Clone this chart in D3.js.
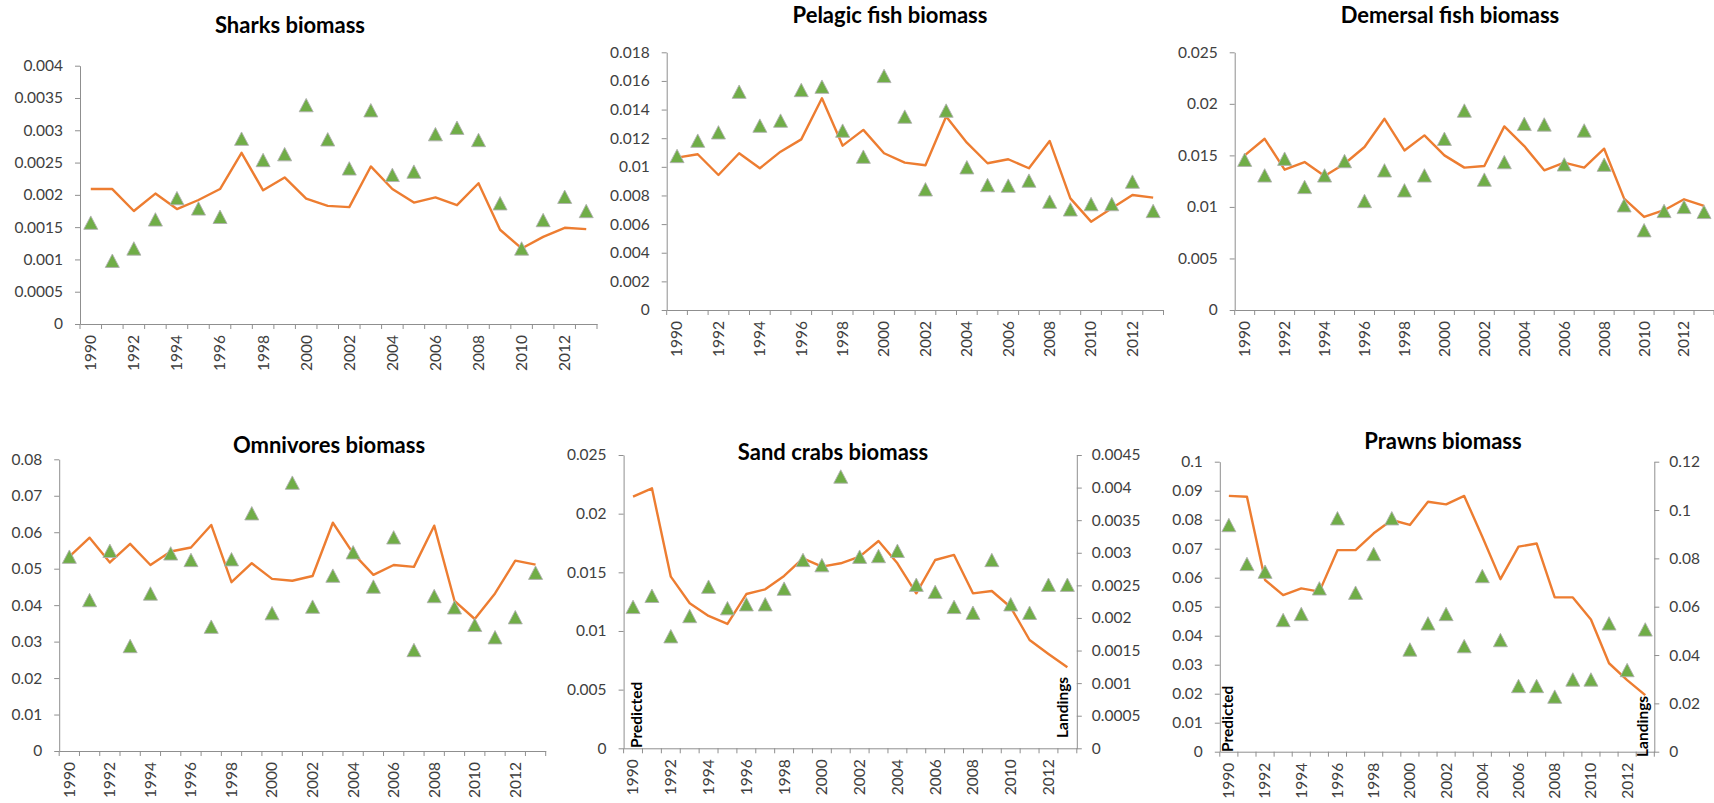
<!DOCTYPE html>
<html>
<head>
<meta charset="utf-8">
<script src="https://cdn.jsdelivr.net/npm/d3@7/dist/d3.min.js"></script>
<style>
  body { margin: 0; background: #fff; }
  svg { display: block; font-family: Lato, "Open Sans", sans-serif; }
  .axis text { font-size: 15.5px; fill: #404040; font-family: Lato, sans-serif; }
  .axis line, .axis path { stroke: #8f8f8f; }
</style>
</head>
<body>
<svg id="chart" width="1714" height="803"></svg>
<script>
// categories
const years = [1990, 1991, 1992, 1993, 1994, 1995, 1996, 1997, 1998, 1999, 2000, 2001,
               2002, 2003, 2004, 2005, 2006, 2007, 2008, 2009, 2010, 2011, 2012, 2013];
const yearLabels = [1990, 1992, 1994, 1996, 1998, 2000, 2002, 2004, 2006, 2008, 2010, 2012];

// predicted (line) and landings (triangles)
const sharksPred = [0.00209, 0.00209, 0.00175, 0.00202, 0.00178, 0.00192, 0.00209, 0.00265, 0.00207, 0.00227, 0.00194, 0.00183,
                    0.00181, 0.00244, 0.00209, 0.00188, 0.00196, 0.00184, 0.00218, 0.00146, 0.00117, 0.00135, 0.00149, 0.00147];
const sharksLand = [0.00157, 0.00098, 0.00117, 0.00162, 0.00195, 0.00179, 0.00166, 0.00287, 0.00254, 0.00263, 0.00339, 0.00286,
                    0.00241, 0.00331, 0.00231, 0.00236, 0.00294, 0.00304, 0.00285, 0.00187, 0.00117, 0.00161, 0.00197, 0.00175];

const pelagicPred = [0.01064, 0.01088, 0.00943, 0.01095, 0.0099, 0.01106, 0.01192, 0.01479, 0.01148, 0.01258, 0.01095, 0.01029,
                     0.01011, 0.01351, 0.01169, 0.01025, 0.01053, 0.0099, 0.01181, 0.0078, 0.00617, 0.0071, 0.00803, 0.00785];
const pelagicLand = [0.01076, 0.01183, 0.01241, 0.01525, 0.01288, 0.01323, 0.01537, 0.0156, 0.01253, 0.01071, 0.01635, 0.01351,
                     0.00843, 0.01393, 0.00997, 0.00873, 0.00869, 0.00904, 0.00757, 0.00703, 0.0074, 0.0074, 0.00897, 0.00692];

const demersalPred = [0.015, 0.01661, 0.01361, 0.01435, 0.013, 0.01419, 0.01581, 0.01855, 0.01548, 0.01694, 0.015, 0.01381,
                      0.01397, 0.01781, 0.0159, 0.01355, 0.01429, 0.01381, 0.01565, 0.01081, 0.00903, 0.00968, 0.01074, 0.0101];
const demersalLand = [0.01458, 0.01306, 0.01468, 0.01194, 0.01306, 0.01445, 0.01058, 0.01355, 0.01161, 0.01306, 0.01661, 0.01935,
                      0.01265, 0.01435, 0.01806, 0.018, 0.01413, 0.01742, 0.0141, 0.01016, 0.00774, 0.00961, 0.01, 0.00952];

const omnivoresPred = [0.0533, 0.0585, 0.0517, 0.0568, 0.051, 0.0547, 0.0558, 0.062, 0.0463, 0.0515, 0.0472, 0.0467,
                       0.048, 0.0626, 0.0542, 0.0483, 0.051, 0.0505, 0.0618, 0.0412, 0.0362, 0.0432, 0.0522, 0.0511];
const omnivoresLand = [0.0533, 0.0414, 0.0549, 0.0288, 0.0432, 0.0542, 0.0524, 0.0341, 0.0526, 0.0652, 0.0378, 0.0736,
                       0.0396, 0.0481, 0.0545, 0.0451, 0.0586, 0.0277, 0.0425, 0.0394, 0.0346, 0.0312, 0.0367, 0.0489];

const sandPred = [0.02145, 0.02216, 0.01463, 0.01236, 0.01128, 0.0106, 0.01315, 0.01355, 0.01469, 0.01619, 0.01548, 0.01577,
                  0.01634, 0.01767, 0.01577, 0.01321, 0.01605, 0.01648, 0.01321, 0.01341, 0.01202, 0.00923, 0.00804, 0.0069];
const sandLand = [0.00217, 0.00234, 0.00172, 0.00203, 0.00248, 0.00215, 0.00221, 0.00221, 0.00245, 0.00289, 0.00281, 0.00417,
                  0.00294, 0.00295, 0.00303, 0.00251, 0.0024, 0.00217, 0.00208, 0.00289, 0.00221, 0.00208, 0.00251, 0.00251];

const prawnsPred = [0.0882, 0.0879, 0.0592, 0.054, 0.0563, 0.0552, 0.0695, 0.0695, 0.0753, 0.0799, 0.0782, 0.0862,
                    0.0853, 0.0882, 0.0741, 0.0595, 0.0707, 0.0718, 0.0532, 0.0532, 0.0456, 0.0305, 0.0247, 0.0195];
const prawnsLand = [0.0938, 0.0777, 0.0745, 0.0545, 0.057, 0.0676, 0.0966, 0.0658, 0.0818, 0.0966, 0.0423, 0.0531,
                    0.057, 0.0437, 0.0727, 0.0462, 0.0272, 0.0272, 0.0228, 0.0299, 0.0299, 0.0531, 0.0338, 0.0506];

// axis ticks
const sharksTicks = [0, 0.0005, 0.001, 0.0015, 0.002, 0.0025, 0.003, 0.0035, 0.004];
const pelagicTicks = [0, 0.002, 0.004, 0.006, 0.008, 0.01, 0.012, 0.014, 0.016, 0.018];
const demersalTicks = [0, 0.005, 0.01, 0.015, 0.02, 0.025];
const omnivoresTicks = [0, 0.01, 0.02, 0.03, 0.04, 0.05, 0.06, 0.07, 0.08];
const sandTicks = [0, 0.005, 0.01, 0.015, 0.02, 0.025];
const sandRightTicks = [0, 0.0005, 0.001, 0.0015, 0.002, 0.0025, 0.003, 0.0035, 0.004, 0.0045];
const prawnsTicks = [0, 0.01, 0.02, 0.03, 0.04, 0.05, 0.06, 0.07, 0.08, 0.09, 0.1];
const prawnsRightTicks = [0, 0.02, 0.04, 0.06, 0.08, 0.1, 0.12];

const panels = [
  { title: "Sharks biomass", tx: 290, ty: 33, x0: 80, x1: 597, yTop: 65.7, yBot: 324,
    pred: sharksPred, land: sharksLand, ticks: sharksTicks },
  { title: "Pelagic fish biomass", tx: 890, ty: 23, x0: 666.7, x1: 1163.5, yTop: 52.3, yBot: 310,
    pred: pelagicPred, land: pelagicLand, ticks: pelagicTicks },
  { title: "Demersal fish biomass", tx: 1450, ty: 22.5, x0: 1234.7, x1: 1714, yTop: 52.3, yBot: 310,
    pred: demersalPred, land: demersalLand, ticks: demersalTicks },
  { title: "Omnivores biomass", tx: 329, ty: 452.5, x0: 59.2, x1: 545.7, yTop: 459.3, yBot: 751,
    pred: omnivoresPred, land: omnivoresLand, ticks: omnivoresTicks },
  { title: "Sand crabs biomass", tx: 833, ty: 459.5, x0: 623.6, x1: 1076.8, yTop: 455, yBot: 748.3,
    pred: sandPred, land: sandLand, ticks: sandTicks, ticks2: sandRightTicks,
    predLabel: { x: 636.6, y: 748 }, landLabel: { x: 1062.4, y: 738 } },
  { title: "Prawns biomass", tx: 1443, ty: 449.3, x0: 1219.8, x1: 1654.3, yTop: 461.7, yBot: 751.7,
    pred: prawnsPred, land: prawnsLand, ticks: prawnsTicks, ticks2: prawnsRightTicks,
    predLabel: { x: 1227.8, y: 752 }, landLabel: { x: 1643, y: 757 } }
];

const svg = d3.select("#chart");
const fmt = d => String(d);
const mw = 7, mh = 6.7;  // triangle marker half-width / half-height
const triangle = `M0,${-mh}L${mw},${mh}L${-mw},${mh}Z`;

function drawPanel(p) {
  const g = svg.append("g");
  const x = d3.scaleBand().domain(years).range([p.x0, p.x1]);
  const y = d3.scaleLinear().domain([0, d3.max(p.ticks)]).range([p.yBot, p.yTop]);
  const y2 = p.ticks2
    ? d3.scaleLinear().domain([0, d3.max(p.ticks2)]).range([p.yBot, p.yTop])
    : y;
  const cx = d => x(d) + x.bandwidth() / 2;

  // left axis
  g.append("g")
    .attr("class", "axis")
    .attr("transform", `translate(${p.x0},0)`)
    .call(d3.axisLeft(y).tickValues(p.ticks).tickFormat(fmt).tickSize(5).tickSizeOuter(0).tickPadding(12))
    .attr("font-size", null).attr("font-family", null);

  // right axis
  if (p.ticks2) {
    g.append("g")
      .attr("class", "axis")
      .attr("transform", `translate(${p.x1},0)`)
      .call(d3.axisRight(y2).tickValues(p.ticks2).tickFormat(fmt).tickSize(5).tickSizeOuter(0).tickPadding(10))
      .attr("font-size", null).attr("font-family", null);
  }

  // category axis, labels every other year
  const xa = g.append("g")
    .attr("class", "axis")
    .attr("transform", `translate(0,${p.yBot})`)
    .call(d3.axisBottom(x).tickValues(yearLabels).tickSize(0).tickSizeOuter(0))
    .attr("font-size", null).attr("font-family", null);
  xa.selectAll(".tick text")
    .attr("transform", "rotate(-90)")
    .attr("text-anchor", "end")
    .attr("x", -11)
    .attr("y", 0)
    .attr("dy", "0.35em");

  // tick marks between categories
  const bounds = years.map(d => x(d)).concat([p.x1]);
  xa.selectAll(".sep")
    .data(bounds)
    .join("line")
    .attr("class", "sep")
    .attr("x1", d => d).attr("x2", d => d)
    .attr("y1", 0).attr("y2", 5);

  // predicted line
  g.append("path")
    .datum(p.pred)
    .attr("fill", "none")
    .attr("stroke", "#ED7D31")
    .attr("stroke-width", 2.4)
    .attr("stroke-linejoin", "round")
    .attr("d", d3.line().x((d, i) => cx(years[i])).y(d => y(d)));

  // landings markers
  g.selectAll(".mk")
    .data(p.land)
    .join("path")
    .attr("class", "mk")
    .attr("d", triangle)
    .attr("transform", (d, i) => `translate(${cx(years[i])},${y2(d)})`)
    .attr("fill", "#70AD47")
    .attr("stroke", "#b0b0b0")
    .attr("stroke-width", 0.9);

  // title
  g.append("text")
    .attr("x", p.tx)
    .attr("y", p.ty)
    .attr("text-anchor", "middle")
    .attr("font-size", 22)
    .attr("font-weight", "bold")
    .attr("fill", "#000")
    .text(p.title);

  if (p.predLabel) {
    [[p.predLabel, "Predicted"], [p.landLabel, "Landings"]].forEach(([pos, txt]) => {
      g.append("text")
        .attr("transform", `translate(${pos.x},${pos.y}) rotate(-90)`)
        .attr("dy", "0.35em")
        .attr("font-size", 15.5)
        .attr("font-weight", "bold")
        .attr("fill", "#000")
        .text(txt);
    });
  }
}

panels.forEach(drawPanel);
</script>
</body>
</html>
